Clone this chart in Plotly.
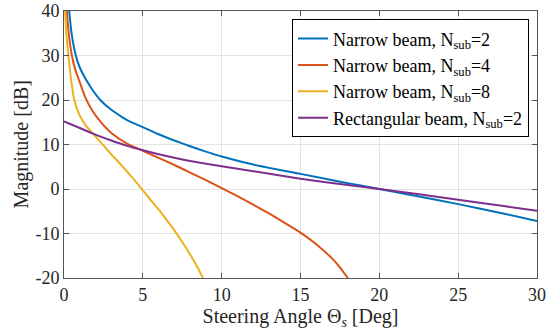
import plotly.graph_objects as go

# Steering angle (deg) and magnitude (dB)
nb2_x = [0.12, 0.33, 0.5, 0.75, 1.0, 1.44, 1.8, 2.3, 3.0, 4.0, 5.0, 6.0, 7.0, 8.0, 9.0, 10.0, 12.0, 15.0, 18.0, 20.0, 22.0, 25.0, 28.0, 30.0]
nb2_y = [50.0, 40.0, 34.5, 30.0, 27.3, 24.3, 22.3, 20.0, 17.8, 15.5, 13.9, 12.3, 10.9, 9.6, 8.4, 7.3, 5.5, 3.4, 1.3, 0.0, -1.35, -3.4, -5.6, -7.2]

nb4_x = [0.08, 0.18, 0.3, 0.5, 0.7, 0.97, 1.35, 1.8, 2.3, 3.0, 4.0, 5.0, 6.0, 7.0, 8.0, 9.0, 10.0, 11.0, 12.0, 13.0, 14.0, 15.0, 16.0, 17.0, 17.5, 18.0]
nb4_y = [52.0, 40.0, 35.0, 30.0, 27.0, 24.3, 20.6, 17.6, 15.2, 12.6, 10.2, 8.6, 7.0, 5.4, 3.7, 2.0, 0.2, -1.6, -3.5, -5.5, -7.6, -9.8, -12.4, -15.6, -17.6, -20.0]

nb8_x = [0.03, 0.07, 0.17, 0.28, 0.45, 0.65, 1.0, 1.4, 2.0, 2.5, 3.0, 3.5, 4.0, 4.5, 5.0, 5.5, 6.0, 6.5, 7.0, 7.5, 8.0, 8.5, 8.81]
nb8_y = [50.0, 40.0, 34.0, 30.0, 24.5, 20.0, 16.5, 14.2, 11.8, 9.8, 7.8, 5.9, 3.9, 1.9, -0.3, -2.5, -4.6, -6.9, -9.3, -11.9, -14.7, -17.8, -20.0]

rb2_x = [0.0, 1.0, 1.87, 3.0, 4.0, 5.0, 6.0, 7.0, 8.0, 10.0, 12.0, 15.0, 18.0, 20.0, 25.0, 28.0, 30.0]
rb2_y = [15.2, 13.7, 12.4, 10.9, 9.7, 8.7, 7.8, 7.0, 6.3, 5.1, 4.0, 2.3, 0.9, 0.0, -2.4, -3.9, -4.9]

names = ["Narrow beam, N<sub>sub</sub>=2", "Narrow beam, N<sub>sub</sub>=4",
         "Narrow beam, N<sub>sub</sub>=8", "Rectangular beam, N<sub>sub</sub>=2"]
colors = ["#0072BD", "#D95319", "#EDB120", "#7E2F8E"]
xs = [nb2_x, nb4_x, nb8_x, rb2_x]
ys = [nb2_y, nb4_y, nb8_y, rb2_y]

x_ticks = [0, 5, 10, 15, 20, 25, 30]
y_ticks = [-20, -10, 0, 10, 20, 30, 40]
y_ticktext = ["-20", "-10", "0", "10", "20", "30", "40"]

FONT = "Times New Roman, Liberation Serif, serif"

fig = go.Figure()
for x, y, n, c in zip(xs, ys, names, colors):
    fig.add_trace(go.Scatter(x=x, y=y, mode="lines", name=n,
                             line=dict(color=c, width=2, shape="spline", smoothing=0.5)))

axis_common = dict(showline=True, linecolor="#555555", linewidth=1, mirror="ticks",
                   ticks="inside", ticklen=5, tickcolor="#555555",
                   showgrid=True, gridcolor="#e3e3e3", gridwidth=1, zeroline=False,
                   automargin=False,
                   tickfont=dict(family=FONT, size=18, color="#262626"))

fig.update_layout(
    width=546, height=335,
    margin=dict(l=64, r=9, t=11, b=57),
    paper_bgcolor="white", plot_bgcolor="white",
    font=dict(family=FONT, color="#262626"),
    xaxis=dict(range=[0, 30], tickvals=x_ticks,
               title=dict(text="Steering Angle Θ<sub><i>s</i></sub> [Deg]",
                          font=dict(family=FONT, size=20), standoff=4),
               **axis_common),
    yaxis=dict(range=[-20, 40], tickvals=y_ticks, ticktext=y_ticktext, **axis_common),
    annotations=[dict(text="Magnitude [dB]", textangle=-90, xref="paper", yref="paper",
                      x=-0.089, y=0.5, xanchor="center", yanchor="middle", showarrow=False,
                      font=dict(family=FONT, size=20, color="#262626"))],
    legend=dict(x=0.482, y=0.969, xanchor="left", yanchor="top",
                bgcolor="white", bordercolor="#000000", borderwidth=1,
                font=dict(family=FONT, size=18, color="#000000"),
                itemwidth=30, tracegroupgap=0),
    showlegend=True,
)

fig.write_html("out.html", config={"displayModeBar": False},
               post_script="document.body.style.margin='0';document.body.style.padding='0';")
